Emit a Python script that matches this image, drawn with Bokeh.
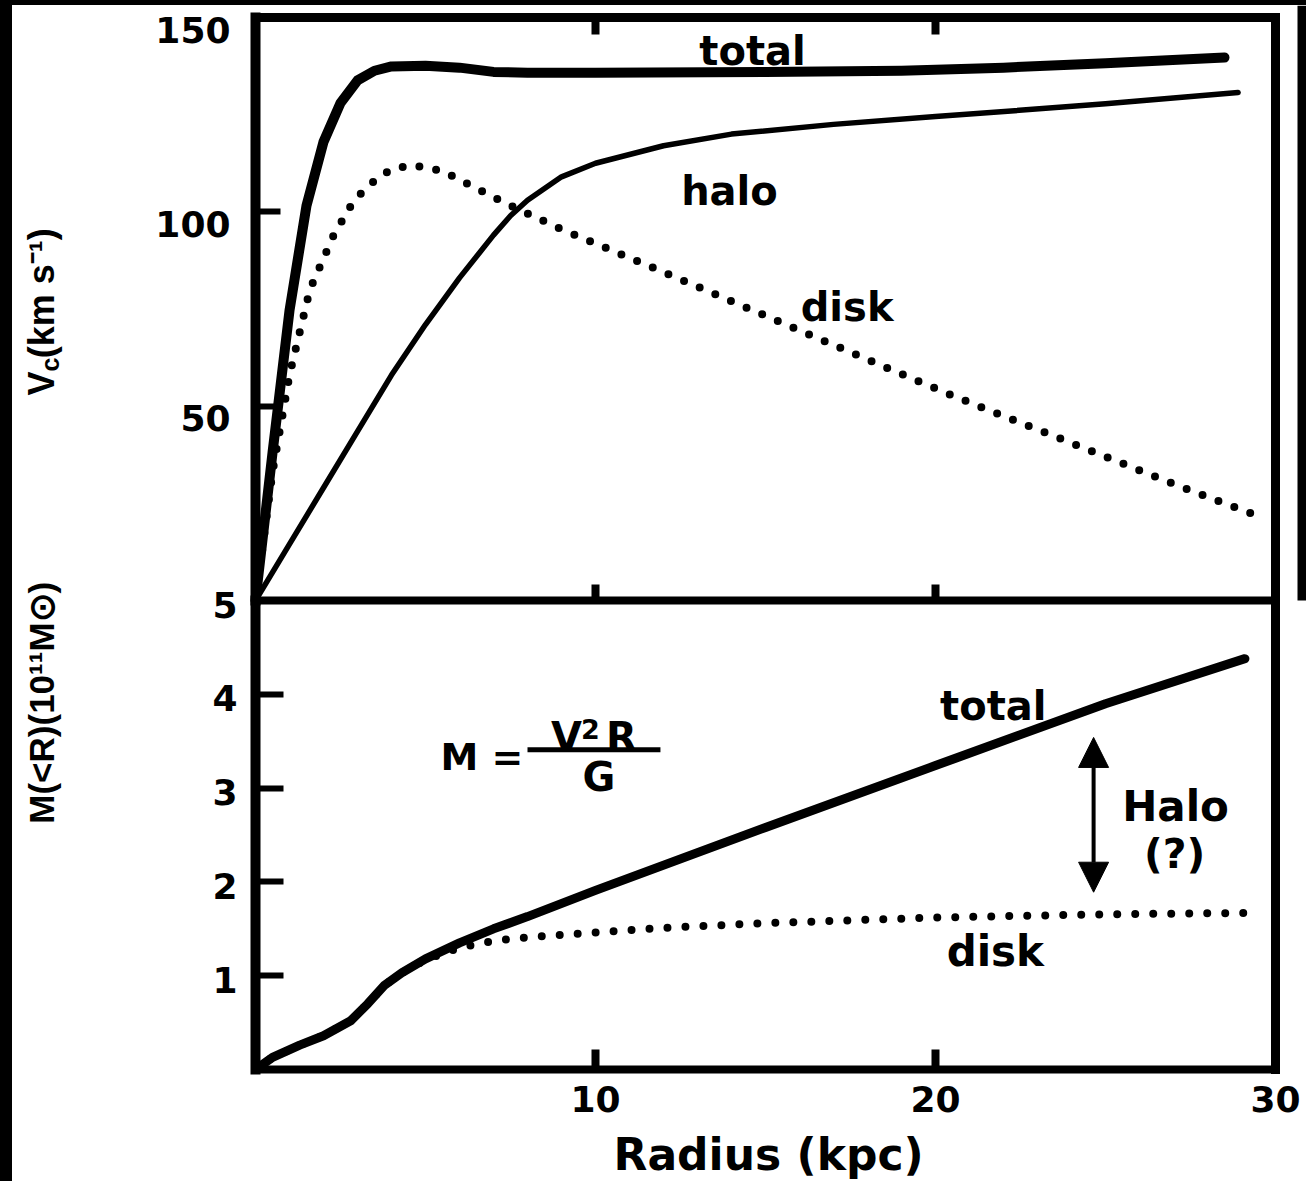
import math
from bokeh.plotting import figure
from bokeh.models import (Range1d, LinearAxis, FixedTicker, Label, Arrow, NormalHead, Div,
                          BoxAnnotation)
from bokeh.layouts import row, column
from bokeh.embed import file_html
from bokeh.resources import INLINE
from bokeh.core.properties import value

FONT = "DejaVu Sans"
TITLE_FONT = "Liberation Sans"

# ---------------- data ----------------
radius_ticks = [10, 20, 30]
vel_ticks = [50, 100, 150]
mass_ticks = [1, 2, 3, 4, 5]

# rotation curve (km/s) vs radius (kpc)
vtot_r = [0, 0.5, 1.0, 1.5, 2.0, 2.5, 3.0, 3.5, 4.0, 5.0, 6.0, 7.0, 8.0, 10, 15, 19, 22, 25, 28.5]
vtot_v = [0, 38, 74.6, 101.6, 118, 128, 133.8, 136.3, 137.4, 137.6, 137.1, 136, 135.8, 135.8, 136, 136.3, 137.1, 138.2, 139.7]

halo_r = [0, 1, 2, 3, 4, 5, 6, 7, 7.5, 8, 9, 10, 12, 14, 17, 20, 25, 28.9]
halo_v = [0, 14.5, 29, 43.5, 58, 71, 83, 94, 99, 103, 109, 112.5, 117, 120, 122.5, 124.5, 127.8, 130.7]

disk_r = [0, 0.5, 1.0, 1.6, 2.3, 2.9, 3.5, 4.0, 4.6, 5.5, 6.5, 7.5, 9, 10.5, 12, 14, 16, 18, 20.5, 23, 25, 27, 29.4]
disk_v = [0, 33, 58, 80, 94, 103, 108, 111, 112, 110.5, 106, 101.6, 95.5, 90, 84.5, 77, 69.5, 62, 52.7, 44, 37, 30, 22]

# enclosed mass (1e11 Msun) vs radius (kpc)
mtot_r = [0, 0.5, 1.3, 2.0, 2.8, 3.3, 3.8, 4.3, 5.0, 6.0, 7.0, 8.0, 10, 15, 20, 25, 29.1]
mtot_m = [0, 0.13, 0.26, 0.36, 0.52, 0.70, 0.90, 1.03, 1.18, 1.35, 1.50, 1.63, 1.91, 2.58, 3.24, 3.90, 4.38]

mdisk_r = [0, 0.5, 1.3, 2.0, 2.8, 3.3, 3.8, 4.3, 5.0, 6.0, 7.0, 8.0, 10, 12, 15, 20, 25, 29.4]
mdisk_m = [0, 0.13, 0.26, 0.36, 0.52, 0.70, 0.90, 1.03, 1.17, 1.30, 1.37, 1.41, 1.46, 1.51, 1.56, 1.62, 1.655, 1.67]

# ---------------- layout constants (page pixels) ----------------
R_MAX, V_MAX, M_MAX = 30, 150, 5
X0, Y0 = 12, 5                 # figure offset on page (black bands)
W, H = 1294, 1176              # figure size
F_LEFT, F_RIGHT = 255, 1275    # panel box left/right (page px)
F_TOP, F_MID, F_BOT = 17, 600, 1069
RIGHT_BAND_X = 1297

kx = (F_RIGHT - F_LEFT) / R_MAX
km = (F_BOT - F_MID) / M_MAX
kv = (F_MID - F_TOP) / V_MAX

x_range = Range1d((X0 - F_LEFT) / kx, (X0 + W - F_LEFT) / kx)
m_range = Range1d(-(Y0 + H - F_BOT) / km, (F_BOT - Y0) / km)
v_range = Range1d(-(Y0 + H - F_MID) / kv, (F_MID - Y0) / kv)

p = figure(width=W, height=H, x_range=x_range, y_range=m_range,
           output_backend="svg", toolbar_location=None,
           x_axis_location=None, y_axis_location=None,
           min_border=0, min_border_left=0, min_border_right=0,
           min_border_top=0, min_border_bottom=0)
p.extra_y_ranges = {"vel": v_range}
p.grid.visible = False
p.outline_line_color = None
p.background_fill_color = "white"
p.border_fill_color = "white"


def make_axis(side, ticks, loc, bounds, yr="default", tick_in=0, tick_w=7,
              line_w=9, labels=False, standoff=22):
    ax = LinearAxis(ticker=FixedTicker(ticks=ticks), fixed_location=loc,
                    bounds=bounds, y_range_name=yr)
    ax.major_tick_in = tick_in
    ax.major_tick_out = 0
    ax.major_tick_line_width = tick_w
    ax.major_tick_line_color = "black"
    ax.minor_tick_line_color = None
    ax.axis_line_color = "black"
    ax.axis_line_width = line_w
    ax.axis_line_cap = "square"
    ax.major_label_text_font = FONT
    ax.major_label_text_font_style = "bold"
    ax.major_label_text_font_size = "36px"
    ax.major_label_text_color = "black" if labels else None
    ax.major_label_standoff = standoff
    p.add_layout(ax, side)
    return ax


# left edge (two scales), bottom, middle divider, top and right edges
make_axis("left", mass_ticks, 0, (0, M_MAX), tick_in=28, tick_w=6, line_w=10)
make_axis("left", vel_ticks, 0, (0, V_MAX), yr="vel", tick_in=25, tick_w=6, line_w=10)
make_axis("below", radius_ticks, 0, (0, R_MAX), tick_in=20, tick_w=8, line_w=8, labels=True, standoff=16)
make_axis("below", [10, 20], 0, (0, R_MAX), yr="vel", tick_in=16, tick_w=8, line_w=8)
make_axis("above", [10, 20], V_MAX, (0, R_MAX), yr="vel", tick_in=17, tick_w=8, line_w=9)
make_axis("right", [], R_MAX, (0, M_MAX), line_w=9)
make_axis("right", [], R_MAX, (0, V_MAX), yr="vel", line_w=9)

# y tick labels (sit slightly below their ticks, as in the scan)
p.text(x=[0] * len(mass_ticks), y=mass_ticks, text=[str(t) for t in mass_ticks],
       x_offset=-18, y_offset=4, text_align="right", text_baseline="middle",
       text_font=value(FONT), text_font_style="bold", text_font_size="36px", text_color="black")
p.text(x=[0] * len(vel_ticks), y=vel_ticks, text=[str(t) for t in vel_ticks], y_range_name="vel",
       x_offset=-25, y_offset=12, text_align="right", text_baseline="middle",
       text_font=value(FONT), text_font_style="bold", text_font_size="36px", text_color="black")

# ---------------- curves ----------------
p.line(vtot_r, vtot_v, y_range_name="vel", line_width=10, line_color="black", line_join="round", line_cap="round")
p.line(halo_r, halo_v, y_range_name="vel", line_width=5.5, line_color="black", line_join="round", line_cap="round")
p.line(disk_r, disk_v, y_range_name="vel", line_width=8, line_color="black", line_dash="0 17", line_cap="round")
p.line(mtot_r, mtot_m, line_width=9, line_color="black", line_join="round", line_cap="round")
p.line(mdisk_r, mdisk_m, line_width=8, line_color="black", line_dash="0 18", line_cap="round")


def lab(x, y, text, size, yr="default", align="center", angle=0.0, font=FONT):
    p.add_layout(Label(x=x, y=y, text=text, y_range_name=yr, text_font=font,
                       text_font_style="bold", text_font_size=f"{size}px",
                       text_align=align, text_baseline="middle", angle=angle,
                       text_color="black"))


# curve labels
lab(14.62, 141.3, "total", 40, "vel")
lab(13.94, 105.3, "halo", 40, "vel")
lab(17.4, 75.6, "disk", 40, "vel")
lab(21.7, 3.87, "total", 40)
lab(21.76, 1.26, "disk", 42)
lab(27.06, 2.80, "Halo", 42)
lab(27.03, 2.30, "(?)", 41)

# formula M = V^2 R / G
lab(5.44, 3.335, "M =", 38, align="left")
lab(9.15, 3.54, "V", 40)
lab(9.85, 3.63, "2", 27)
lab(10.76, 3.54, "R", 40)
lab(10.1, 3.12, "G", 40)
p.segment(x0=[8.0], y0=[3.41], x1=[11.91], y1=[3.41], line_width=5, line_color="black")

# arrow for the halo mass
p.add_layout(Arrow(x_start=24.65, y_start=3.54, x_end=24.65, y_end=1.89,
                   start=NormalHead(size=30, fill_color="black", line_color="black"),
                   end=NormalHead(size=30, fill_color="black", line_color="black"),
                   line_width=4, line_color="black"))

# axis titles
lab(15.09, -0.906, "Radius (kpc)", 44)
lab(-6.28, 52.74, "V", 36, "vel", align="left", angle=math.pi / 2, font=TITLE_FONT)
lab(-6.05, 58.9, "c", 25, "vel", align="left", angle=math.pi / 2, font=TITLE_FONT)
lab(-6.28, 62.3, "(km s⁻¹)", 36, "vel", align="left", angle=math.pi / 2, font=TITLE_FONT)
lab(-6.28, 3.91, "M(<R)(10¹¹M⊙)", 35, angle=math.pi / 2, font=TITLE_FONT)

# black scan border on the upper right
p.add_layout(BoxAnnotation(left=(RIGHT_BAND_X - F_LEFT) / kx, right=x_range.end,
                           bottom=0, top=v_range.end, y_range_name="vel",
                           fill_color="black", fill_alpha=1.0, line_color=None))

left_band = Div(text="", width=X0, height=Y0 + H, margin=0, styles={"background-color": "black"})
top_band = Div(text="", width=W, height=Y0, margin=0, styles={"background-color": "black"})
layout = row(left_band, column(top_band, p, spacing=0), spacing=0)

open("out.html", "w").write(file_html(layout, INLINE))
